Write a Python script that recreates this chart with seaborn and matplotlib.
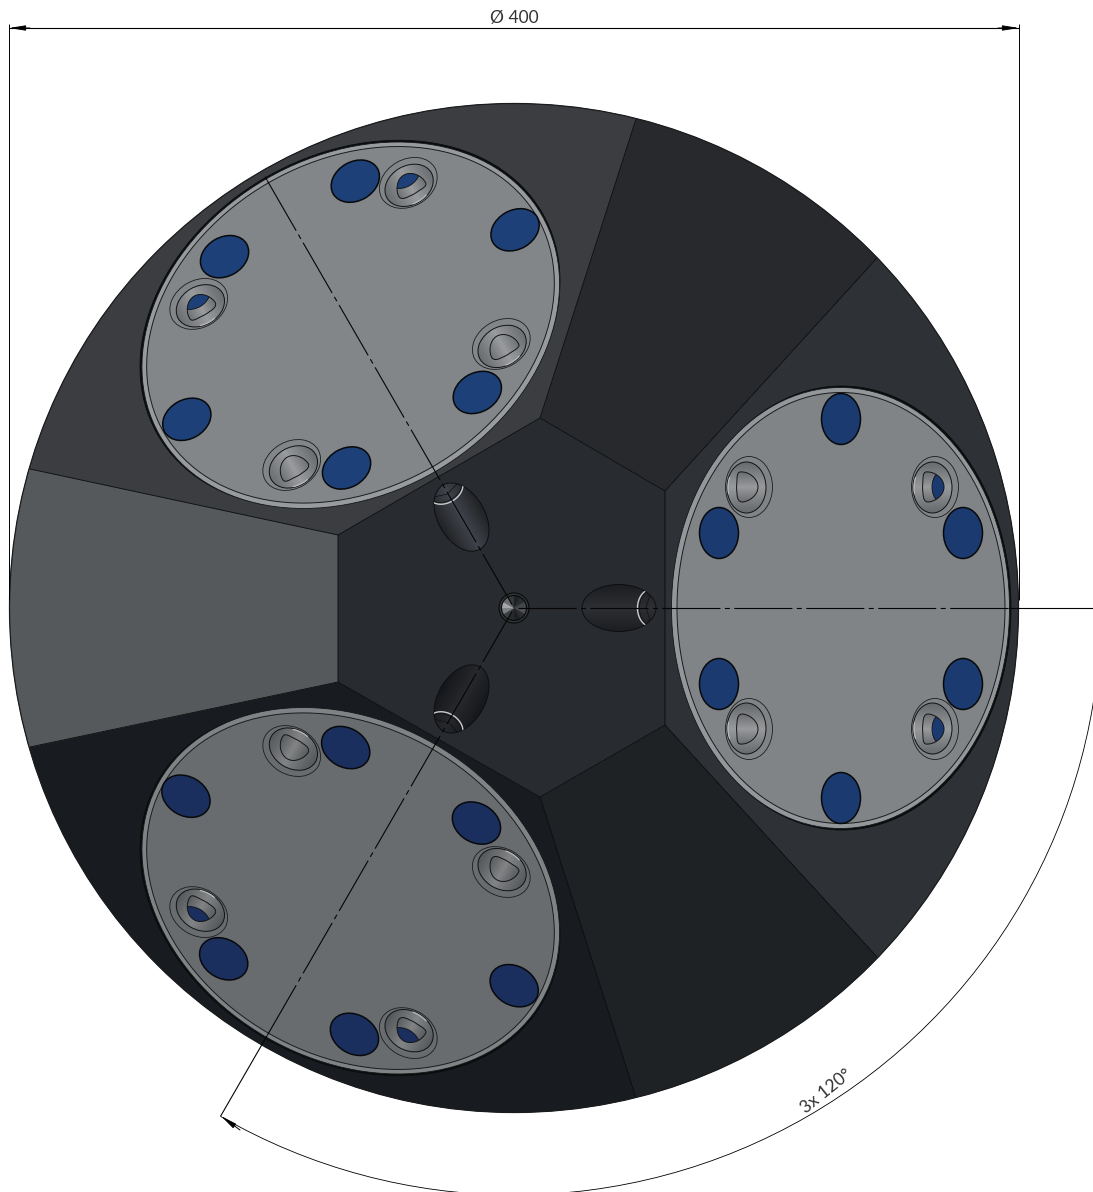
#!/usr/bin/env python3
"""Bottom view of the 400 mm plate with three rotated pads, drawn in drawing units (px)."""

import numpy as np
import matplotlib
matplotlib.use("Agg")
import matplotlib.pyplot as plt
import seaborn as sns
from matplotlib.patches import Arc, Circle, Ellipse, PathPatch, Polygon, Rectangle, Wedge
from matplotlib.path import Path
from matplotlib.transforms import Affine2D

# plate
center = (514, 608)
radius = 504.5
hex_pts = [(540, 418), (665, 491), (665, 725), (540, 797), (338, 682), (338, 535)]
rim_pts = [(636, 119), (877, 258), (877, 957), (636, 1098), (30, 747), (30, 469)]
sector_colors = ["#28292c", "#2e3135", "#1f2225", "#181c20", "#55595b", "#3b3d40"]
hex_color = "#282b2f"

# one entry per pad: right, upper left, lower left
pad_angles = [0, -120, 120]
pad_colors = ["#808487", "#828688", "#686c6e"]
rim_colors = ["#94979a", "#989b9d", "#808385"]
blue_colors = ["#1b3b70", "#1c4077", "#1a2f5e"]
cs_dark = ["#66696c", "#6a6d70", "#55585a"]
cs_light = ["#96989a", "#9a9c9e", "#828486"]
slot_dark = ["#1b1d20", "#202225", "#15171a"]
slot_light = ["#2d2f33", "#40434a", "#26282b"]
axis_ends = [1100, 1012, 1101]

# pad layout, written for the right hand pad
pad_center = (841, 608)
hole_x = [841, 963, 963, 841, 719, 719]
hole_y = [419, 533, 684, 798, 684, 533]
sink_x = [749, 935, 749, 935]
sink_y = [487, 487, 729, 729]
sink_flip = [1, 1, -1, -1]
sink_has_blue = [False, True, False, True]

# small parts
hub_shades = ["#505356", "#2b2d30", "#1d1f22", "#26282b", "#3b3e41", "#7b7d80",
              "#a3a5a7", "#6a6c6f", "#35373a", "#1f2124", "#2a2c2f", "#44474a"]

# dimension labels
dim_diameter = "Ø 400"
dim_angle = "3x 120°"

sns.set_theme(style="white")
plt.rcParams["font.family"] = ["Lato", "DejaVu Sans"]
plt.rcParams["lines.scale_dashes"] = False
plt.rcParams["lines.solid_capstyle"] = "butt"

fig = plt.figure(figsize=(10.93, 11.92), dpi=100)
ax = fig.add_axes([0, 0, 1, 1])
ax.set_xlim(0, 1093)
ax.set_ylim(1192, 0)
ax.set_axis_off()


def rim_angle(p):
    return np.arctan2(p[1] - center[1], p[0] - center[0])


def draw_strips(trans, clip, x0, x1, y0, y1, shades, zorder):
    # horizontal bands, clipped to the given patch
    h = (y1 - y0) / len(shades)
    for i, c in enumerate(shades):
        r = Rectangle((x0, y0 + i * h), x1 - x0, h + 0.6, fc=c, ec="none", lw=0,
                      transform=trans, zorder=zorder)
        ax.add_patch(r)
        r.set_clip_path(clip)


def curve(trans, cx, cy, w, h, deg0, deg1, color, lw, zorder, clip=None):
    # elliptical stroke; Arc does not follow a rotated transform well
    t = np.radians(np.linspace(deg0, deg1, 40))
    line, = ax.plot(cx + w / 2 * np.cos(t), cy + h / 2 * np.sin(t), color=color, lw=lw,
                    transform=trans, zorder=zorder)
    if clip is not None:
        line.set_clip_path(clip)


def draw_sectors():
    n = len(hex_pts)
    for i in range(n):
        a0 = rim_angle(rim_pts[i])
        a1 = rim_angle(rim_pts[(i + 1) % n])
        if a1 < a0:
            a1 += 2 * np.pi
        t = np.linspace(a0, a1, 80)
        arc = np.column_stack([center[0] + radius * np.cos(t), center[1] + radius * np.sin(t)])
        pts = np.vstack([[hex_pts[i]], arc, [hex_pts[(i + 1) % n]]])
        ax.add_patch(Polygon(pts, closed=True, fc=sector_colors[i], ec=sector_colors[i], lw=0.3, zorder=1))
        ax.plot([hex_pts[i][0], rim_pts[i][0]], [hex_pts[i][1], rim_pts[i][1]],
                color="#08090a", lw=0.6, zorder=2)
    ax.add_patch(Polygon(hex_pts, closed=True, fc=hex_color, ec="#08090a", lw=0.6, zorder=2))
    ax.add_patch(Circle(center, radius, fc="none", ec="#1a1b1d", lw=0.9, zorder=3))


def draw_sink(base, cx, cy, flip, has_blue, g):
    trans = Affine2D().scale(1, flip).translate(cx, cy) + base
    ax.add_patch(Ellipse((0, 0), 47, 61, fc=pad_colors[g], ec="#1c1d1f", lw=0.6, transform=trans, zorder=7))
    shades = sns.blend_palette([cs_dark[g], cs_light[g], cs_dark[g]], 51)
    ring = Ellipse((-2.5, 0.5), 39, 51, fc="none", ec="#111214", lw=0.7, transform=trans, zorder=9)
    ax.add_patch(ring)
    draw_strips(trans, ring, -24, 20, -26, 26, shades, 8)
    curve(trans, -2.5, 0.5, 37, 49, 165, 205, "#b8babb", 0.9, 9)
    d_path = Path([(-9, -15), (-1, -16), (9, -9), (9, 0), (9, 9), (-1, 15), (-7, 15),
                   (-10, 15), (-12, 12), (-12, 6), (-13, 0), (-12, -4), (-12, -8),
                   (-12, -12), (-11, -15), (-9, -15), (-9, -15)],
                  [Path.MOVETO] + [Path.CURVE4] * 15 + [Path.CLOSEPOLY])
    d_patch = PathPatch(d_path, fc="none", ec="#141517", lw=0.7, transform=trans, zorder=11)
    ax.add_patch(d_patch)
    inner = sns.blend_palette([cs_dark[g], cs_light[g], cs_dark[g]], 33)
    draw_strips(trans, d_patch, -14, 11, -17, 17, inner, 10)
    if has_blue:
        blue = Ellipse((15, 0), 36, 40, fc=blue_colors[g], ec="#101114", lw=0.6, transform=trans, zorder=10.5)
        ax.add_patch(blue)
        blue.set_clip_path(d_patch)


def draw_slot(base, g):
    slot = Ellipse((619, 608), 74, 47, fc="none", ec="#0e0f11", lw=0.7, transform=base, zorder=4.5)
    ax.add_patch(slot)
    shades = sns.blend_palette([slot_dark[g], slot_light[g], slot_dark[g]], 31)
    draw_strips(base, slot, 580, 658, 584, 632, shades, 4)
    curve(base, 651, 608, 27, 37, 95, 265, "#c9cbcd", 1.0, 5, clip=slot)
    curve(base, 653, 608, 27, 37, 105, 255, "#0e0f11", 0.5, 5, clip=slot)
    ax.plot([650, 646, 650], [595, 607, 621], color="#0e0f11", lw=0.5, transform=base, zorder=5)


def draw_pad(g):
    base = Affine2D().rotate_deg_around(center[0], center[1], pad_angles[g]) + ax.transData
    draw_slot(base, g)
    ax.add_patch(Ellipse((842, 608), 338, 444, fc="#0b0c0e", ec="#0b0c0e", lw=0.6, transform=base, zorder=5))
    ax.add_patch(Ellipse((840.5, 608), 338, 441, fc=rim_colors[g], ec="#151618", lw=0.6, transform=base, zorder=5.1))
    ax.add_patch(Ellipse((841, 608), 328, 431, fc=pad_colors[g], ec="#1a1b1d", lw=0.7, transform=base, zorder=5.2))
    for x, y in zip(hole_x, hole_y):
        ax.add_patch(Ellipse((x, y), 39, 51, fc=blue_colors[g], ec="#08090b", lw=1.1, transform=base, zorder=7))
    for x, y, f, b in zip(sink_x, sink_y, sink_flip, sink_has_blue):
        draw_sink(base, x, y, f, b, g)
    # centre line: long dash, gap, short dash, gap, solid once past the pad
    stop = min(1008, axis_ends[g])
    ax.plot([518, stop], [608, 608], color="#050505", lw=0.8, transform=base, zorder=12,
            linestyle=(0, (41.8, 3.2, 3.6, 3.2)))
    ax.plot([stop, axis_ends[g]], [608, 608], color="#050505", lw=0.8, transform=base, zorder=12)


def draw_hub():
    ax.add_patch(Circle(center, 15, fc="#34373a", ec="#08090a", lw=0.8, zorder=6))
    step = 360 / len(hub_shades)
    for i, c in enumerate(hub_shades):
        ax.add_patch(Wedge(center, 12.5, i * step, (i + 1) * step, fc=c, ec=c, lw=0.2, zorder=6.1))
    ax.add_patch(Circle(center, 12.5, fc="none", ec="#08090a", lw=0.8, zorder=6.2))


def arrow(tip, tail):
    ax.annotate("", xy=tip, xytext=tail, zorder=14,
                arrowprops=dict(arrowstyle="-|>,head_length=0.75,head_width=0.12", mutation_scale=13,
                                shrinkA=0, shrinkB=0, lw=0.7, color="black"))


def draw_dimensions():
    for x in (9, 1019):
        ax.plot([x, x], [24, 600], color="black", lw=0.7, zorder=13)
    ax.plot([9, 1019], [28, 28], color="black", lw=0.8, zorder=13)
    arrow((9, 28), (30, 28))
    arrow((1019, 28), (998, 28))
    ax.text(514, 18.5, dim_diameter, ha="center", va="center", fontsize=12.5, color="#333333",
            fontweight="normal", zorder=14)
    # angular dimension, same radius for arc and extension line end
    ax.add_patch(Arc(center, 2 * 587, 2 * 587, theta1=0, theta2=120, color="black", lw=0.6, zorder=13))
    arrow((221, 1116), (240, 1130))
    ax.text(826, 1091, dim_angle, ha="center", va="center", rotation=39, rotation_mode="anchor",
            fontsize=12.5, color="#333333", fontweight="normal", zorder=14)


draw_sectors()
for g in range(3):
    draw_pad(g)
draw_hub()
draw_dimensions()
sns.despine(ax=ax, left=True, bottom=True)

fig.savefig("out.png", dpi=100, facecolor="white")
